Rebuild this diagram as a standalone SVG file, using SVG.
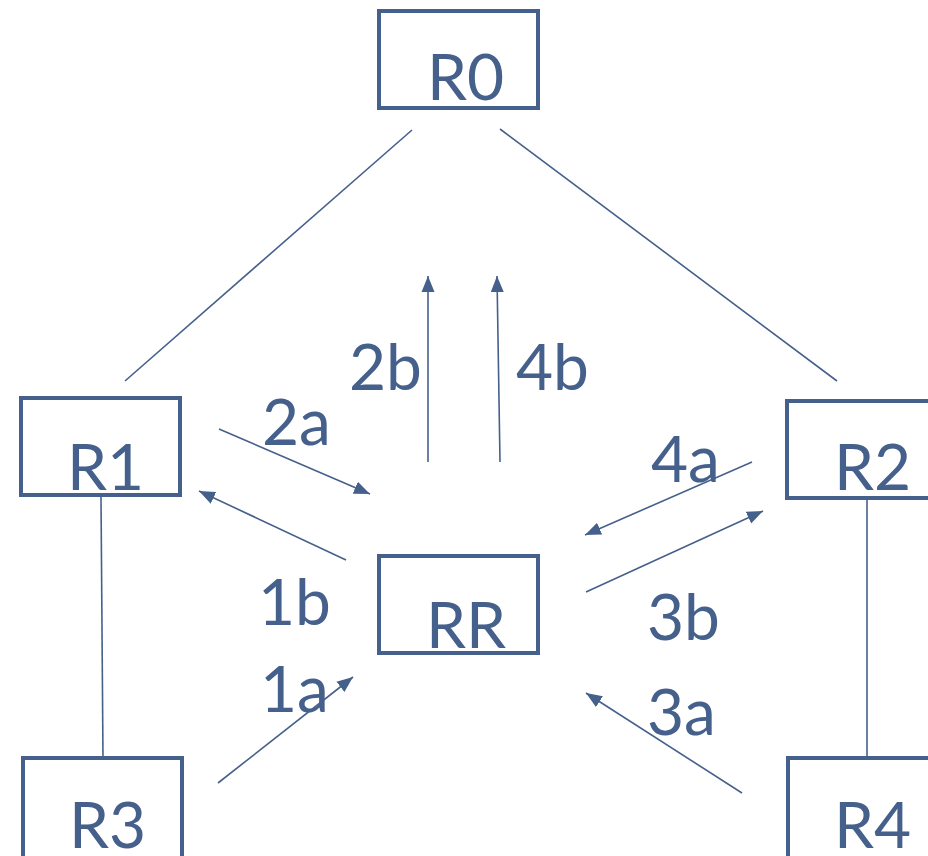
<svg xmlns="http://www.w3.org/2000/svg" width="928" height="856" viewBox="0 0 928 856">
<style>
.box{fill:#fff;stroke:#46608C;stroke-width:4}
.lbl{font-family:Lato,"Liberation Sans",sans-serif;font-size:64px;fill:#46608C}
.ln{stroke:#46608C;stroke-width:1.6;fill:none}
.ar{stroke:#46608C;stroke-width:1.6;fill:none;marker-end:url(#ah)}
</style>
<defs>
<marker id="ah" markerUnits="userSpaceOnUse" markerWidth="17" markerHeight="14" refX="16" refY="7" orient="auto">
<path d="M0,0.5 L16,7 L0,13.5 z" fill="#46608C"/>
</marker>
</defs>
<rect width="928" height="856" fill="#fff"/>
<g id="connectors">
<line class="ln" x1="412" y1="130" x2="125" y2="381"/>
<line class="ln" x1="500" y1="129" x2="837" y2="381"/>
<line class="ln" x1="101" y1="497" x2="103" y2="758"/>
<line class="ln" x1="867" y1="499" x2="867" y2="760"/>
<line class="ar" x1="219" y1="429" x2="370" y2="494"/>
<line class="ar" x1="346" y1="560" x2="199" y2="491"/>
<line class="ar" x1="428" y1="462" x2="428" y2="276"/>
<line class="ar" x1="500" y1="462" x2="497" y2="276"/>
<line class="ar" x1="752" y1="462" x2="585" y2="535"/>
<line class="ar" x1="586" y1="592" x2="763" y2="511"/>
<line class="ar" x1="218" y1="783" x2="353" y2="677"/>
<line class="ar" x1="742" y1="793" x2="586" y2="693"/>
<text class="lbl" x="262" y="445">2a</text>
<text class="lbl" x="349" y="390">2b</text>
<text class="lbl" x="516" y="390">4b</text>
<text class="lbl" x="651" y="482">4a</text>
<text class="lbl" x="258" y="625">1b</text>
<text class="lbl" x="647" y="640">3b</text>
<text class="lbl" x="260" y="712">1a</text>
<text class="lbl" x="647" y="735">3a</text>
</g>
<g id="R0"><rect class="box" x="379" y="11" width="159" height="97"/><text class="lbl" x="427" y="100">R0</text></g>
<g id="R1"><rect class="box" x="21" y="398" width="159" height="97"/><text class="lbl" x="67" y="490">R1</text></g>
<g id="R2"><rect class="box" x="787" y="401" width="159" height="97"/><text class="lbl" x="834" y="490">R2</text></g>
<g id="RR"><rect class="box" x="379" y="556" width="159" height="97"/><text class="lbl" x="426" y="648">RR</text></g>
<g id="R3"><rect class="box" x="23" y="758" width="159" height="110"/><text class="lbl" x="69" y="848">R3</text></g>
<g id="R4"><rect class="box" x="788" y="758" width="159" height="110"/><text class="lbl" x="834" y="848">R4</text></g>
</svg>
